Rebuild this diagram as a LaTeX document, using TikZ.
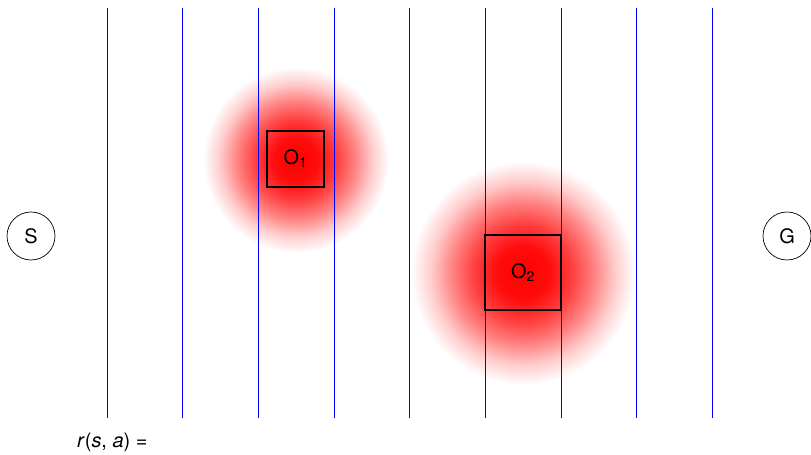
\documentclass[tikz,border=0pt]{standalone}
\usepackage{fontspec}
\setmainfont{TeX Gyre Heros}
\pgfdeclareradialshading{glow}{\pgfpoint{0bp}{0bp}}{color(0bp)=(red); color(6bp)=(red!95); color(11bp)=(red!75); color(16bp)=(red!48); color(20.5bp)=(red!20); color(25bp)=(white); color(50bp)=(white)}
\tikzset{
  lane/.style={draw=blue, line width=1bp},
  endpt/.style={draw, circle, line width=0.7pt, minimum size=48bp, inner sep=0pt, font=\fontsize{20}{22}\selectfont},
  obst/.style={draw, line width=1.4pt, inner sep=0pt, font=\fontsize{20}{22}\selectfont},
}
\begin{document}
\begin{tikzpicture}[x=1bp,y=-1bp]
\useasboundingbox (0,0) rectangle (811,455);
\shade[shading=glow] (296,160) circle (93);
\shade[shading=glow] (523,273) circle (112);
\foreach \i/\x in {1/107.5,2/182.5,3/258.5,4/334.5,5/409.5,6/485.5,7/561.5,8/636.5,9/712.5} {
  \coordinate (t\i) at (\x,8);
  \coordinate (b\i) at (\x,418);
  \draw[lane] (t\i) -- (b\i);
}
\node[endpt] (S) at (31,236) {S};
\node[endpt] (G) at (787,236) {G};
\node[obst, minimum width=57bp, minimum height=56bp] (O1) at (295.5,159) {O\textsubscript{1}};
\node[obst, minimum width=76bp, minimum height=75bp] (O2) at (523,272.5) {O\textsubscript{2}};
\node[anchor=base west, font=\fontsize{20}{22}\selectfont, inner sep=0pt] (r) at (77,447) {\textit{r}(\textit{s}, \textit{a}) =};
\end{tikzpicture}
\end{document}
